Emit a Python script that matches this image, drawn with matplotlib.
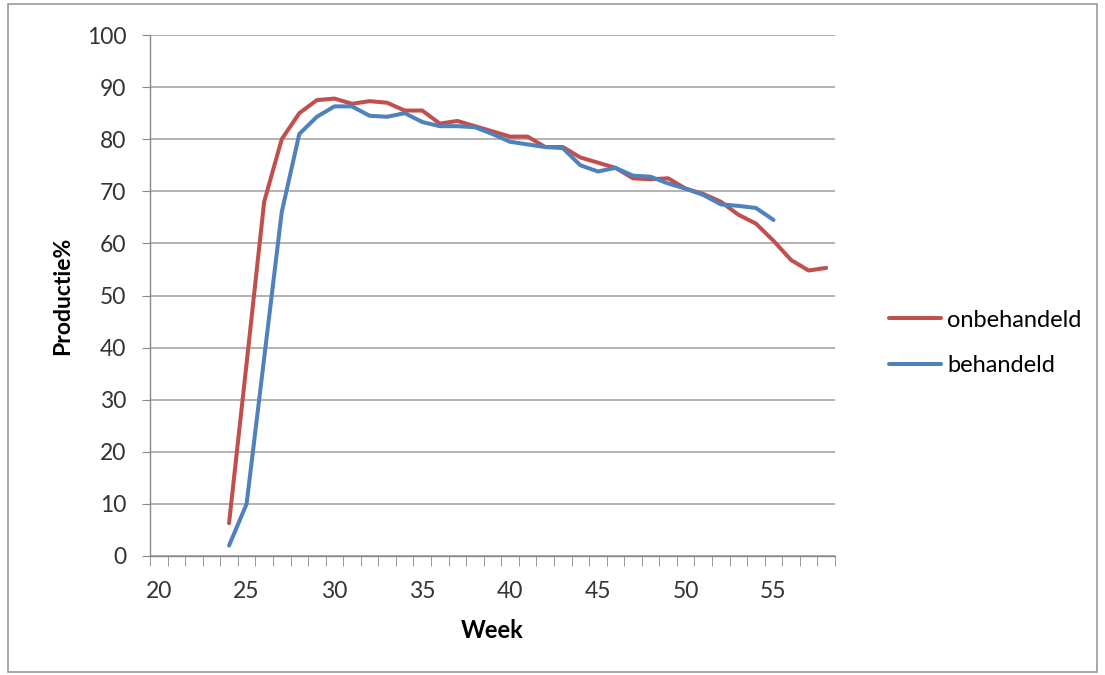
import matplotlib
matplotlib.use("Agg")
import matplotlib.pyplot as plt
from matplotlib.patches import Rectangle
import numpy as np

plt.rcParams['font.family'] = ['Lato', 'DejaVu Sans']

# data
weeks_onb = list(range(24, 59))
onbehandeld = [6.3, 37, 68, 80, 85, 87.5, 87.8, 86.8, 87.3, 87, 85.5, 85.5, 83, 83.5,
               82.5, 81.5, 80.5, 80.5, 78.5, 78.5, 76.5, 75.5, 74.5, 72.5, 72.3, 72.5,
               70.5, 69.5, 68, 65.5, 63.8, 60.5, 56.8, 54.8, 55.3]
weeks_beh = list(range(24, 56))
behandeld = [2.0, 10, 38, 66, 81, 84.3, 86.3, 86.3, 84.5, 84.3, 85, 83.3, 82.5, 82.5,
             82.3, 81, 79.5, 79, 78.5, 78.3, 75, 73.8, 74.5, 73, 72.8, 71.5,
             70.5, 69.3, 67.5, 67.2, 66.8, 64.5]
x_labels = [20, 25, 30, 35, 40, 45, 50, 55]

fig = plt.figure(figsize=(11.05, 6.75), dpi=100)
ax = fig.add_axes([150/1105, 1-556/675, 685/1105, 521/675])

ax.plot(weeks_onb, onbehandeld, color='#C0504D', lw=2.9, label='onbehandeld',
        solid_joinstyle='round', solid_capstyle='round')
ax.plot(weeks_beh, behandeld, color='#4F81BD', lw=2.9, label='behandeld',
        solid_joinstyle='round', solid_capstyle='round')

ax.set_xlim(19.5, 58.5)
ax.set_ylim(0, 100)
ax.set_yticks(np.arange(0, 101, 10))
ax.set_xticks(x_labels)
ax.set_xticks(np.arange(19.5, 59, 1), minor=True)
ax.tick_params(axis='x', which='major', length=0, pad=18, labelsize=16.5, colors='#333333')
ax.tick_params(axis='x', which='minor', length=7, color='#888888')
ax.tick_params(axis='y', length=6, color='#888888', labelsize=16.5, colors='#333333', pad=11)
ax.grid(axis='y', color='#a6a6a6', lw=1.2)
ax.set_axisbelow(True)
for s in ['top', 'right']:
    ax.spines[s].set_visible(False)
for s in ['left', 'bottom']:
    ax.spines[s].set_color('#888888')
    ax.spines[s].set_linewidth(1.0)

ax.set_xlabel('Week', fontsize=17, fontweight='bold')
ax.set_ylabel('Productie%', fontsize=16.5, fontweight='bold')
ax.xaxis.set_label_coords(0.5, (556-619)/521)
ax.yaxis.set_label_coords((73-150)/685, 0.5)

leg = fig.legend(loc='center left', bbox_to_anchor=(868/1105, 1-343/675), frameon=False,
                 fontsize=17, handlelength=2.2, handletextpad=0.25, labelspacing=1.05)

fig.patches.append(Rectangle((8/1105, 3/675), 1089/1105, 668/675, transform=fig.transFigure,
                             fill=False, edgecolor='#999999', lw=1.2))

fig.savefig('out.png', dpi=100)
